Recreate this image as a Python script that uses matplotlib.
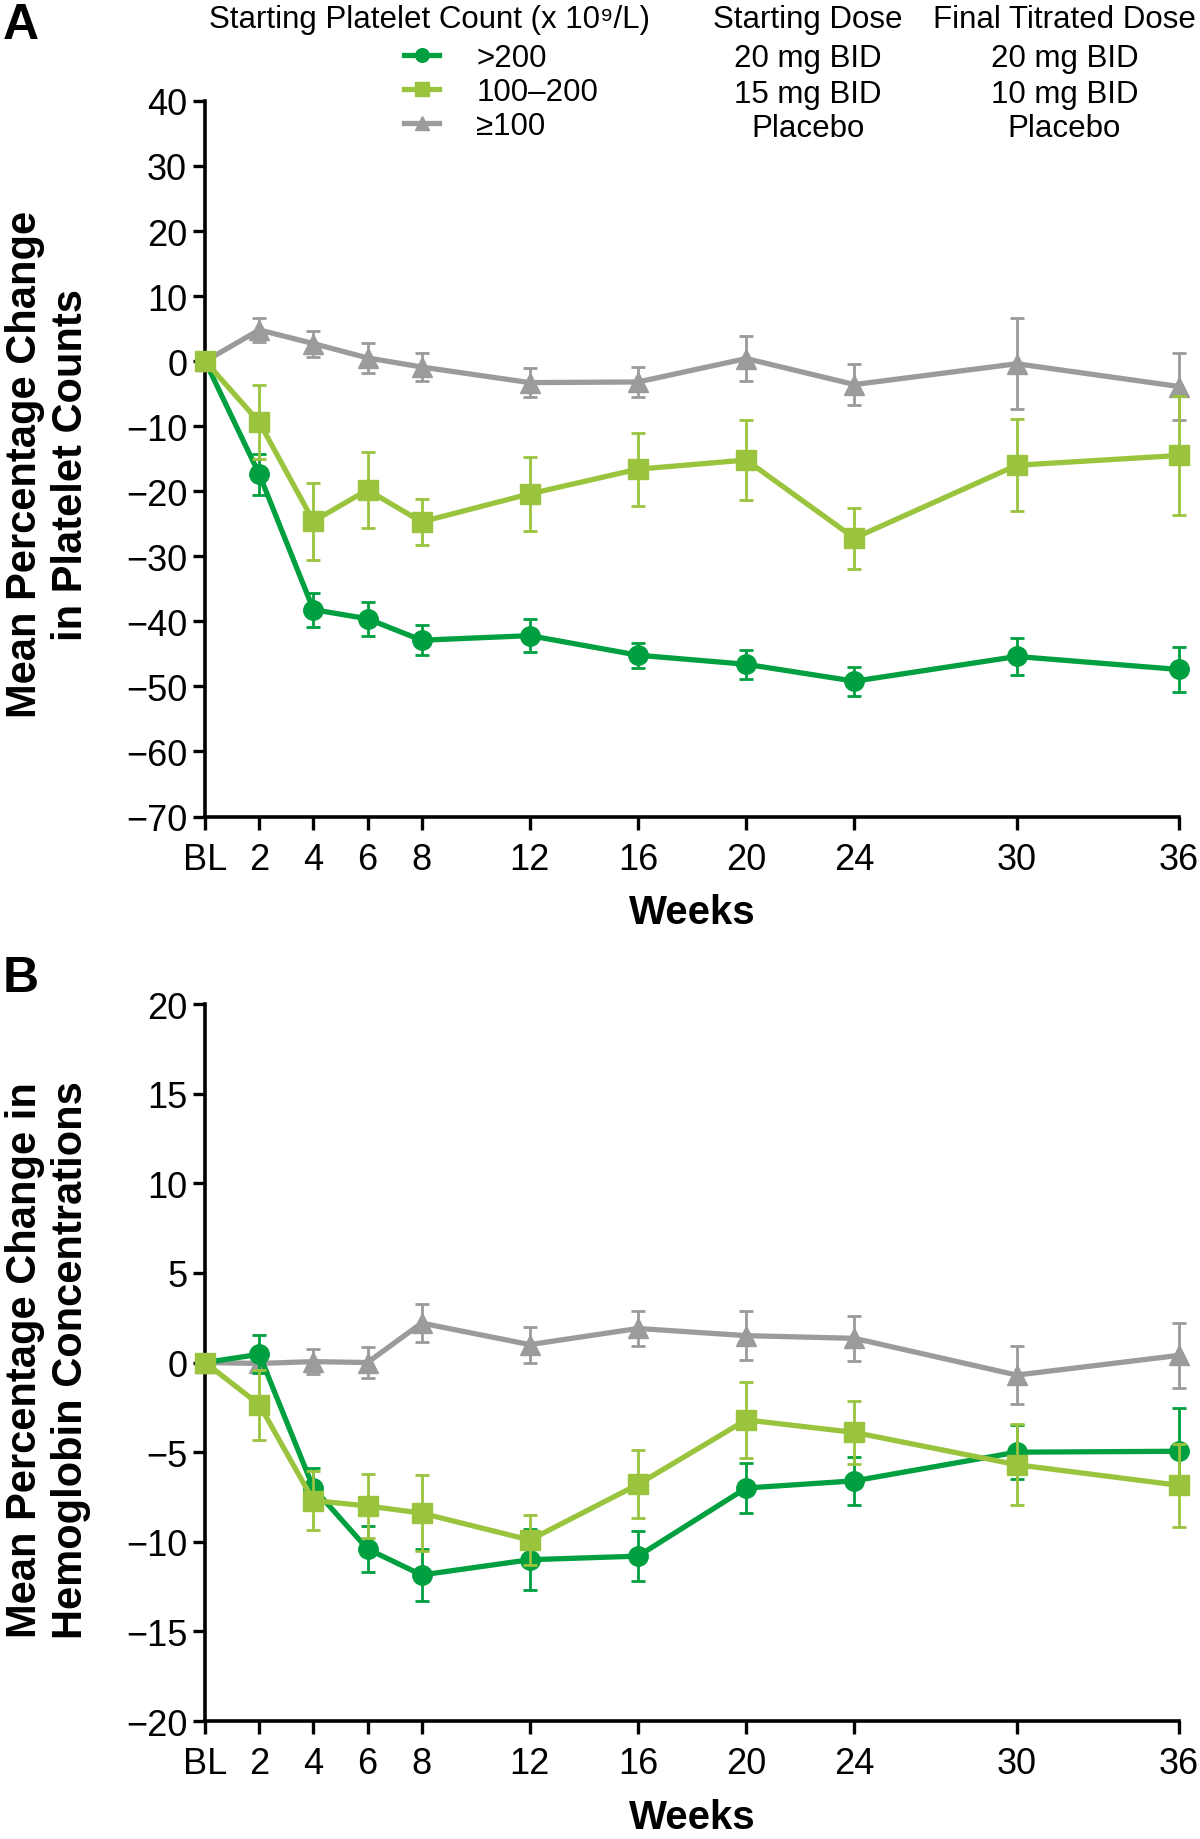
import matplotlib
matplotlib.use("Agg")
import matplotlib.pyplot as plt

plt.rcParams['font.family'] = ['Liberation Sans Narrow', 'Liberation Sans', 'DejaVu Sans']

# Data
weeks = [0, 2, 4, 6, 8, 12, 16, 20, 24, 30, 36]
week_labels = ['BL', '2', '4', '6', '8', '12', '16', '20', '24', '30', '36']

groups = ['>200', '100–200', '≥100']
start_dose = ['20 mg BID', '15 mg BID', 'Placebo']
final_dose = ['20 mg BID', '10 mg BID', 'Placebo']

# Panel A: mean % change in platelet counts (and SE)
plt_hi = [0, -17.4, -38.2, -39.6, -42.9, -42.2, -45.2, -46.6, -49.2, -45.4, -47.4]
plt_hi_se = [0, 3.2, 2.6, 2.6, 2.3, 2.5, 1.9, 2.2, 2.2, 2.9, 3.5]
plt_mid = [0, -9.4, -24.6, -19.8, -24.7, -20.4, -16.6, -15.2, -27.2, -16.0, -14.5]
plt_mid_se = [0, 5.7, 5.9, 5.8, 3.5, 5.7, 5.6, 6.2, 4.7, 7.1, 9.2]
plt_pbo = [0, 4.8, 2.7, 0.5, -0.9, -3.3, -3.2, 0.4, -3.6, -0.4, -3.9]
plt_pbo_se = [0, 1.8, 2.0, 2.3, 2.2, 2.2, 2.3, 3.4, 3.2, 7.0, 5.2]

# Panel B: mean % change in hemoglobin (and SE)
hgb_hi = [0, 0.46, -7.0, -10.4, -11.85, -11.0, -10.8, -7.0, -6.6, -5.0, -4.95]
hgb_hi_se = [0, 1.05, 1.1, 1.3, 1.45, 1.7, 1.4, 1.4, 1.35, 1.5, 2.4]
hgb_mid = [0, -2.35, -7.7, -8.0, -8.4, -9.9, -6.8, -3.2, -3.9, -5.7, -6.85]
hgb_mid_se = [0, 1.95, 1.65, 1.8, 2.1, 1.4, 1.9, 2.1, 1.75, 2.25, 2.3]
hgb_pbo = [0, -0.05, 0.05, 0.0, 2.2, 1.0, 1.9, 1.5, 1.35, -0.7, 0.4]
hgb_pbo_se = [0, 0.5, 0.7, 0.85, 1.05, 1.0, 1.0, 1.35, 1.25, 1.6, 1.8]

dark = '#00a040'
light = '#9bc43e'
grey = '#9b9b9b'

fig = plt.figure(figsize=(12, 18.4), dpi=100)
axA = fig.add_axes([0.171, 0.5557, 0.8115, 0.3889])
axB = fig.add_axes([0.171, 0.0641, 0.8115, 0.3897])


def draw(ax, series, ylim, step):
    handles = []
    for (y, se, c, m, ms, z) in series:
        h = ax.errorbar(weeks, y, yerr=se, color=c, marker=m, ms=ms, lw=3.8,
                        elinewidth=2.0, capsize=5, capthick=2.0, zorder=z,
                        clip_on=False)
        handles.append(h.lines[0])
    ax.set_xlim(0, 36)
    ax.set_ylim(*ylim)
    ax.set_yticks(range(ylim[0], ylim[1] + 1, step))
    ax.set_xticks(weeks)
    ax.set_xticklabels(week_labels)
    for s in ['top', 'right']:
        ax.spines[s].set_visible(False)
    for s in ['left', 'bottom']:
        ax.spines[s].set_linewidth(2.6)
    ax.tick_params(labelsize=26, width=2.4, length=9, direction='out', pad=4)
    ax.tick_params(axis='x', pad=9)
    ax.set_xlabel('Weeks', fontsize=29, fontweight='bold', labelpad=12,
                  family=['Liberation Sans', 'DejaVu Sans'])
    return handles


hA = draw(axA, [(plt_pbo, plt_pbo_se, grey, '^', 14, 3),
                (plt_hi, plt_hi_se, dark, 'o', 14, 4),
                (plt_mid, plt_mid_se, light, 's', 14, 5)], (-70, 40), 10)
draw(axB, [(hgb_pbo, hgb_pbo_se, grey, '^', 14, 3),
           (hgb_hi, hgb_hi_se, dark, 'o', 14, 4),
           (hgb_mid, hgb_mid_se, light, 's', 14, 5)], (-20, 20), 5)

bold = dict(fontweight='bold', family=['Liberation Sans', 'DejaVu Sans'])
fig.text(0.040, 0.7475, 'Mean Percentage Change\nin Platelet Counts', rotation=90,
         ha='center', va='center', fontsize=30, linespacing=1.2, **bold)
fig.text(0.040, 0.261, 'Mean Percentage Change in\nHemoglobin Concentrations', rotation=90,
         ha='center', va='center', fontsize=30, linespacing=1.2, **bold)
fig.text(0.002, 0.986, 'A', fontsize=36, ha='left', va='center', **bold)
fig.text(0.002, 0.468, 'B', fontsize=36, ha='left', va='center', **bold)

# legend block
fig.text(0.174, 0.989, 'Starting Platelet Count (x 10⁹/L)', fontsize=22.5, ha='left', va='center')
fig.text(0.673, 0.989, 'Starting Dose', fontsize=22.5, ha='center', va='center')
fig.text(0.887, 0.989, 'Final Titrated Dose', fontsize=22.5, ha='center', va='center')
row_y = [0.968, 0.9485, 0.930]
for i in range(3):
    fig.text(0.673, row_y[i], start_dose[i], fontsize=22.5, ha='center', va='center')
    fig.text(0.887, row_y[i], final_dose[i], fontsize=22.5, ha='center', va='center')

order = [1, 2, 0]
leg = fig.legend([hA[i] for i in order], groups, loc='upper left',
                 bbox_to_anchor=(0.337, 0.976), frameon=False, fontsize=22.5,
                 handlelength=1.1, handletextpad=1.2, labelspacing=0.12,
                 markerscale=0.7, borderpad=0, borderaxespad=0)

fig.savefig('out.png', dpi=100)
